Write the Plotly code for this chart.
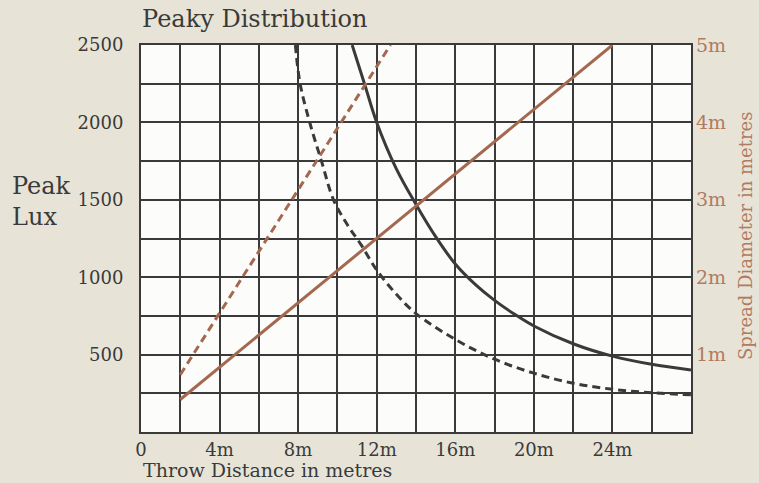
import plotly.graph_objects as go

# Peak lux vs throw distance (left axis)
narrow_dist = [10.75, 11.4, 12, 13, 14, 15, 16, 17, 18, 19, 20, 22, 24, 26, 28]
narrow_lux = [2500, 2240, 2000, 1700, 1470, 1262, 1085, 955, 850, 762, 685, 570, 490, 437, 400]

wide_dist = [7.86, 8.1, 8.6, 9.2, 9.8, 10.5, 11.2, 12, 13, 14, 16, 18, 20, 22, 24, 26, 28]
wide_lux = [2500, 2250, 1995, 1745, 1500, 1340, 1210, 1046, 890, 765, 598, 470, 380, 315, 276, 254, 240]

# Spread diameter vs throw distance (right axis)
narrow_spread_dist = [2, 24]
narrow_spread = [0.42, 5.0]
wide_spread_dist = [2, 12.7]
wide_spread = [0.74, 5.0]

x_ticks = [0, 4, 8, 12, 16, 20, 24]
x_labels = ['0', '4m', '8m', '12m', '16m', '20m', '24m']
lux_ticks = [500, 1000, 1500, 2000, 2500]
spread_ticks = [1, 2, 3, 4, 5]
spread_labels = ['1m', '2m', '3m', '4m', '5m']

INK = '#3a3a3a'
BROWN = '#a3684f'
BROWN_TXT = '#b07a63'
FONT = 'DejaVu Serif'

fig = go.Figure()

fig.add_trace(go.Scatter(
    x=narrow_spread_dist, y=narrow_spread, yaxis='y2', mode='lines',
    line=dict(color=BROWN, width=3), name='Spread (peaky)',
))
fig.add_trace(go.Scatter(
    x=wide_spread_dist, y=wide_spread, yaxis='y2', mode='lines',
    line=dict(color=BROWN, width=3, dash='8px,5px'), name='Spread (wide)',
))
fig.add_trace(go.Scatter(
    x=narrow_dist, y=narrow_lux, mode='lines',
    line=dict(color=INK, width=3, shape='spline'), name='Lux (peaky)',
))
fig.add_trace(go.Scatter(
    x=wide_dist, y=wide_lux, mode='lines',
    line=dict(color=INK, width=3, shape='spline', dash='8px,5px'), name='Lux (wide)',
))

grid = dict(showgrid=True, gridcolor=INK, gridwidth=2)

fig.update_layout(
    width=759, height=483,
    paper_bgcolor='#e7e4d7',
    plot_bgcolor='#fcfcfa',
    font=dict(family=FONT, color=INK, size=18),
    showlegend=False,
    margin=dict(l=141, r=68, t=45, b=51),
    title=dict(text='Peaky Distribution', x=0.002, xref='paper', xanchor='left',
               y=1 - 19 / 483, yref='container', yanchor='middle',
               font=dict(family=FONT, size=24, color=INK)),
    xaxis=dict(range=[0, 28], tickvals=x_ticks, ticktext=x_labels,
               ticks='', zeroline=False, showline=True, linecolor=INK,
               linewidth=2, mirror=True,
               minor=dict(dtick=2, tick0=0, **grid), **grid),
    yaxis=dict(range=[0, 2500], tickvals=lux_ticks, ticks='', zeroline=False,
               showline=True, linecolor=INK, linewidth=2, mirror=True,
               ticklabelstandoff=12,
               minor=dict(dtick=250, tick0=0, **grid), **grid),
    yaxis2=dict(range=[0, 5], overlaying='y', side='right', tickvals=spread_ticks,
                ticktext=spread_labels, showgrid=False, zeroline=False, ticks='',
                ticklabelstandoff=4,
                tickfont=dict(color=BROWN_TXT, size=19)),
    annotations=[
        dict(text='Peak<br>Lux', x=(10 - 141) / 550, y=(432 - 201) / 387,
             xref='paper', yref='paper', xanchor='left', yanchor='middle',
             align='left', showarrow=False, font=dict(size=24, color=INK)),
        dict(text='Throw Distance in metres', x=0, y=(432 - 470) / 387,
             xref='paper', yref='paper', xanchor='left', yanchor='middle',
             showarrow=False, font=dict(size=19, color=INK)),
        dict(text='Spread Diameter in metres', x=(745 - 141) / 550, y=(432 - 236) / 387,
             xref='paper', yref='paper', xanchor='center', yanchor='middle',
             textangle=-90, showarrow=False, font=dict(size=18, color=BROWN_TXT)),
    ],
)

fig.write_html('out.html', config={'displayModeBar': False},
               post_script="document.body.style.margin='0';")
